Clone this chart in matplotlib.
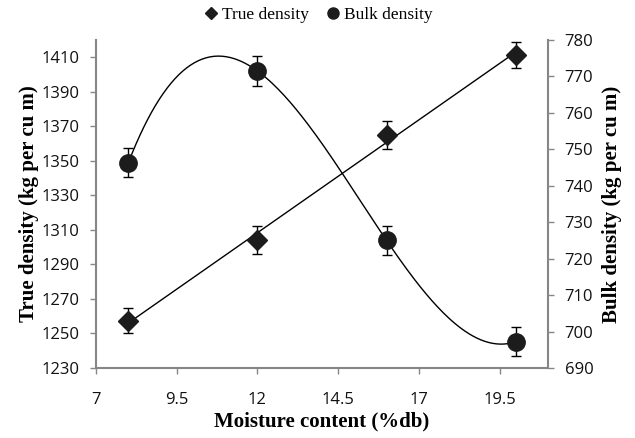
import numpy as np
import matplotlib
matplotlib.use("Agg")
import matplotlib.pyplot as plt
from matplotlib.lines import Line2D

moisture = [8, 12, 16, 20]
true_density = [1257.5, 1304, 1365, 1411.5]
true_err = [7.5, 8, 8, 7.5]
bulk_density = [746.3, 771.5, 725, 697.2]
bulk_err = [4, 4, 4, 4]

x_ticks = [7, 9.5, 12, 14.5, 17, 19.5]
left_ticks = list(range(1230, 1411, 20))
right_ticks = list(range(690, 781, 10))

serif = "Liberation Serif"
sans = "Open Sans"
grey = "#868686"
mark = "#1c1c1c"

fig = plt.figure(figsize=(6.35, 4.38), dpi=100)
ax = fig.add_axes([0.1512, 0.1598, 0.7118, 0.7489])
ax2 = ax.twinx()

# true density: linear trend
xs = np.linspace(min(moisture), max(moisture), 200)
lin = np.polyfit(moisture, true_density, 1)
ax.plot(xs, np.polyval(lin, xs), color="black", lw=1, zorder=2)
ax.errorbar(moisture, true_density, yerr=true_err, fmt="D", color=mark,
            ms=10, ecolor="black", elinewidth=1, capsize=3.5, capthick=1, zorder=3)

# bulk density: cubic trend
cub = np.polyfit(moisture, bulk_density, 3)
ax2.plot(xs, np.polyval(cub, xs), color="black", lw=1, zorder=2)
ax2.errorbar(moisture, bulk_density, yerr=bulk_err, fmt="o", color=mark,
             ms=12.5, ecolor="black", elinewidth=1, capsize=3.5, capthick=1, zorder=3)

ax.set_xlim(7, 21)
ax.set_ylim(1230, 1420)
ax2.set_ylim(690, 780)
ax.set_xticks(x_ticks)
ax.set_xticklabels([str(t) for t in x_ticks])
ax.set_yticks(left_ticks)
ax2.set_yticks(right_ticks)

for a in (ax, ax2):
    for s in a.spines.values():
        s.set_visible(False)
    a.tick_params(colors=grey, labelcolor="#111111", labelsize=12, length=4, width=1, pad=8)
    for lab in a.get_xticklabels() + a.get_yticklabels():
        lab.set_family(sans)
ax.spines["left"].set_visible(True)
ax.spines["bottom"].set_visible(True)
ax2.spines["right"].set_visible(True)
for s in (ax.spines["left"], ax.spines["bottom"], ax2.spines["right"]):
    s.set_color(grey)
    s.set_linewidth(1.5)
ax.tick_params(axis="x", pad=13)

ax.set_xlabel("Moisture content (%db)", fontfamily=serif, fontweight="bold", fontsize=15, labelpad=3)
ax.set_ylabel("True density (kg per cu m)", fontfamily=serif, fontweight="bold", fontsize=15, labelpad=2)
ax2.set_ylabel("Bulk density (kg per cu m)", fontfamily=serif, fontweight="bold", fontsize=15, labelpad=6)

handles = [Line2D([], [], marker="D", color=mark, ls="none", ms=6.5),
           Line2D([], [], marker="o", color=mark, ls="none", ms=8)]
fig.legend(handles, ["True density", "Bulk density"], loc="center", bbox_to_anchor=(0.5, 0.965),
           ncol=2, frameon=False, prop={"family": serif, "size": 12.5},
           handletextpad=0.1, columnspacing=0.9, handlelength=1.0)

fig.savefig("out.png", dpi=100)
